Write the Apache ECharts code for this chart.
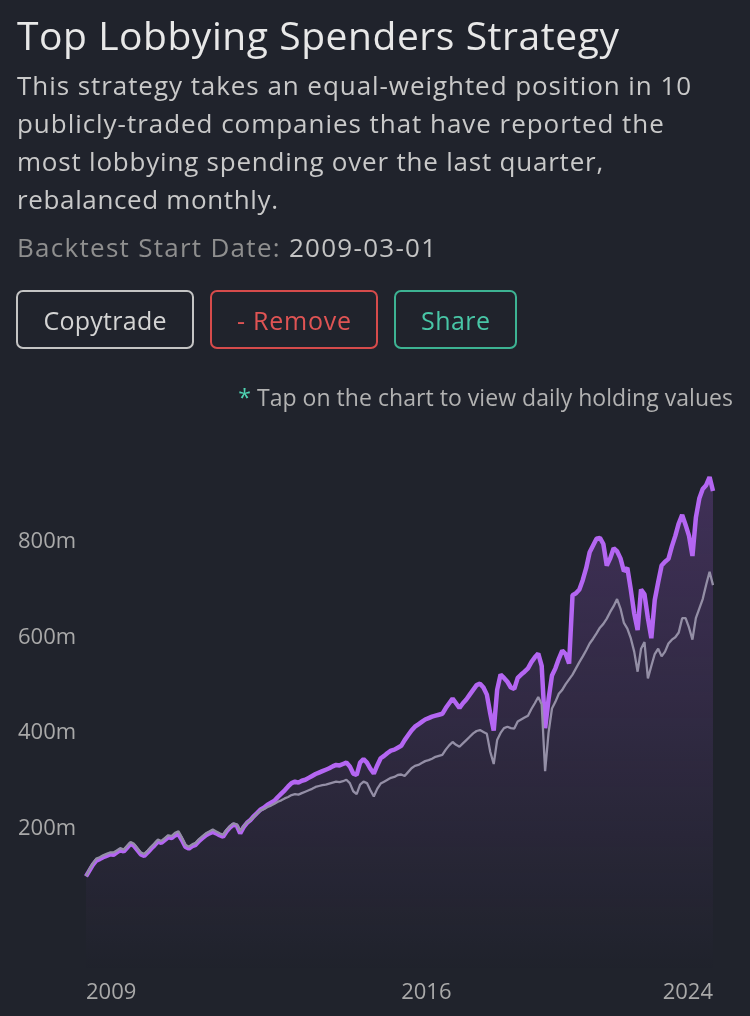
<!DOCTYPE html>
<html>
<head>
<meta charset="utf-8">
<script src="https://cdn.jsdelivr.net/npm/echarts@6/dist/echarts.min.js"></script>
<style>
  html, body { margin:0; padding:0; background:#20232c; width:750px; height:1016px; overflow:hidden; font-family: "Open Sans", Roboto, sans-serif; }
  #chart { position:absolute; left:0; top:0; width:750px; height:1016px; }
  .abs { position:absolute; white-space:nowrap; }
  .fit { display:inline-block; white-space:nowrap; }
  #title { left:17px; top:12px; font-size:39px; color:#e8e8e8; line-height:46px; }
  #desc { left:17px; top:66px; font-size:26px; color:#c9c9c9; line-height:38px; }
  #desc div { height:38px; }
  #start { left:17px; top:228px; font-size:26px; color:#8f8f8f; line-height:38px; }
  #start .d { color:#c4c4c4; }
  .btn { position:absolute; top:290px; height:59px; box-sizing:border-box; border:2px solid; border-radius:7px; font-size:25px; display:flex; align-items:center; justify-content:center; }
  #b1 { left:16px; width:178px; border-color:#c4c4c4; color:#d4d4d4; }
  #b2 { left:210px; width:168px; border-color:#d64b4b; color:#e05454; }
  #b3 { left:394px; width:123px; border-color:#3db393; color:#48c6a6; }
  #note { right:17px; top:382px; font-size:23px; color:#b2b2b2; line-height:30px; }
  #note .a { color:#4fd3b2; }
</style>
</head>
<body>
<div id="chart"></div>
<div class="abs" id="title"><span class="fit" data-w="602">Top Lobbying Spenders Strategy</span></div>
<div class="abs" id="desc">
  <div><span class="fit" data-w="674">This strategy takes an equal-weighted position in 10</span></div>
  <div><span class="fit" data-w="647">publicly-traded companies that have reported the</span></div>
  <div><span class="fit" data-w="586">most lobbying spending over the last quarter,</span></div>
  <div><span class="fit" data-w="261">rebalanced monthly.</span></div>
</div>
<div class="abs" id="start"><span class="fit" data-w="419">Backtest Start Date: <span class="d">2009-03-01</span></span></div>
<div class="btn" id="b1"><span class="fit" data-w="123">Copytrade</span></div>
<div class="btn" id="b2"><span class="fit" data-w="114">- Remove</span></div>
<div class="btn" id="b3"><span class="fit" data-w="69">Share</span></div>
<div class="abs" id="note"><span class="fit" data-w="495"><span class="a">*</span> Tap on the chart to view daily holding values</span></div>
<script>
// fit text widths to the reference measurements
document.querySelectorAll('.fit').forEach(function (el) {
  const target = +el.getAttribute('data-w');
  const w = el.getBoundingClientRect().width;
  const n = el.textContent.length;
  if (n > 1) {
    const ls = (target - w) / (n - 1);
    el.style.letterSpacing = ls.toFixed(2) + 'px';
    el.style.marginRight = (-ls).toFixed(2) + 'px';
  }
});

// Monthly points, 2009-03 .. 2024-06 (values in millions)
const startYear = 2009, startMonth = 3;
const strategyValues = [
100,112,124,133,136,140,143,146,145,150,155,152,160,168,164,155,146,143,150,158,
165,173,170,176,182,180,186,188,176,162,158,163,166,174,180,186,190,193,190,186,
183,194,202,208,206,190,203,212,218,226,233,240,244,250,254,258,266,273,280,288,
295,298,296,300,302,306,310,314,317,320,323,326,330,333,332,335,338,330,315,312,
338,345,338,325,315,332,347,352,358,363,365,369,373,385,395,405,413,418,423,428,
431,434,436,438,440,452,462,472,462,452,462,470,480,490,500,503,495,480,440,405,
490,522,515,507,495,492,515,522,528,535,548,558,566,540,410,470,520,535,555,572,
565,545,688,692,700,720,745,778,792,806,808,795,750,765,786,780,765,738,745,700,
650,615,700,690,640,598,678,715,750,758,764,790,812,838,856,835,812,770,850,890,
910,918,935,906
];
const benchmarkValues = [
100,115,127,137,140,144,147,150,150,154,159,156,164,172,168,159,150,147,154,162,
169,177,174,180,186,184,191,194,181,166,162,167,170,178,184,190,194,198,194,190,
187,197,205,211,209,195,205,213,218,225,232,238,241,245,248,252,256,259,263,266,
270,272,271,274,277,280,283,287,289,291,292,294,296,298,297,299,302,295,278,272,
292,298,295,280,267,283,294,298,302,306,308,312,313,310,318,326,331,333,337,341,
343,346,350,352,354,365,374,381,375,371,378,385,392,399,404,406,402,398,360,335,
385,400,410,413,410,409,424,428,432,436,450,462,475,460,320,400,451,465,482,490,
502,512,522,535,548,560,573,587,597,608,620,628,639,653,665,680,660,630,618,598,
570,528,576,590,514,540,565,576,560,570,587,595,600,610,640,640,620,595,640,660,
680,710,737,709
];
const yTickLabels = ['200m', '400m', '600m', '800m'];

const months = [];
for (let i = 0; i < strategyValues.length; i++) {
  const m = startMonth - 1 + i;
  const y = startYear + Math.floor(m / 12);
  const mm = (m % 12) + 1;
  months.push(y + '-' + (mm < 10 ? '0' : '') + mm);
}
const lastIdx = months.length - 1;
const midIdx = Math.round(lastIdx / 2);

const chart = echarts.init(document.getElementById('chart'), null, { renderer: 'canvas' });
chart.setOption({
  backgroundColor: 'transparent',
  animation: false,
  grid: { left: 86, right: 37, top: 446, bottom: 44, containLabel: false },
  xAxis: {
    type: 'category',
    data: months,
    boundaryGap: false,
    axisLine: { show: false },
    axisTick: { show: false },
    splitLine: { show: false },
    axisLabel: {
      interval: function (idx) { return idx === 0 || idx === midIdx || idx === lastIdx; },
      formatter: function (v) { return v.slice(0, 4); },
      color: '#a9a9a9',
      fontSize: 22,
      fontFamily: 'Open Sans',
      margin: 10,
      align: 'left',
      alignMaxLabel: 'right'
    }
  },
  yAxis: {
    type: 'value',
    min: -100,
    max: 1000,
    interval: 100,
    axisLine: { show: false },
    axisTick: { show: false },
    splitLine: { show: false },
    axisLabel: {
      formatter: function (v) {
        const s = v + 'm';
        return yTickLabels.indexOf(s) >= 0 ? s : '';
      },
      color: '#a9a9a9',
      fontSize: 22,
      fontFamily: 'Open Sans',
      align: 'left',
      margin: 68
    }
  },
  series: [
    {
      name: 'Strategy',
      type: 'line',
      data: strategyValues,
      showSymbol: false,
      symbol: 'none',
      lineStyle: { color: '#b466f2', width: 4.5 },
      itemStyle: { color: '#b466f2' },
      areaStyle: {
        origin: 'start',
        color: new echarts.graphic.LinearGradient(0, 0, 0, 1, [
          { offset: 0, color: 'rgba(176,96,240,0.32)' },
          { offset: 1, color: 'rgba(176,96,240,0.0)' }
        ])
      },
      z: 2
    },
    {
      name: 'Benchmark',
      type: 'line',
      data: benchmarkValues,
      showSymbol: false,
      symbol: 'none',
      lineStyle: { color: '#948fa6', width: 2.3 },
      itemStyle: { color: '#948fa6' },
      z: 3
    }
  ]
});
</script>
</body>
</html>
